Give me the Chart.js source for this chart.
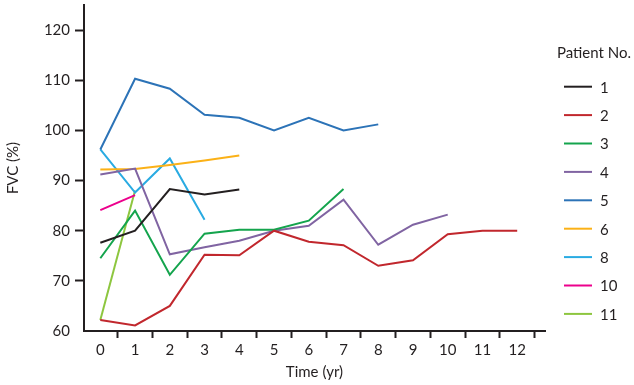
<!DOCTYPE html>
<html>
<head>
<meta charset="utf-8">
<script src="https://cdn.jsdelivr.net/npm/chart.js@4"></script>
<style>
  html, body { margin: 0; padding: 0; background: #fff; }
  canvas { display: block; }
</style>
</head>
<body>
<canvas id="fvcChart" width="634" height="385"></canvas>
<script>
// FVC (%) per patient, one value per year from year 0
const years = [0, 1, 2, 3, 4, 5, 6, 7, 8, 9, 10, 11, 12];
const patientNos = ["1", "2", "3", "4", "5", "6", "8", "10", "11"];
const p1 = [77.6, 80.0, 88.3, 87.2, 88.2];
const p2 = [62.2, 61.1, 65.0, 75.2, 75.1, 80.0, 77.8, 77.1, 73.0, 74.1, 79.3, 80.0, 80.0];
const p3 = [74.5, 84.0, 71.2, 79.4, 80.2, 80.2, 82.0, 88.3];
const p4 = [91.2, 92.4, 75.3, 76.7, 78.0, 80.0, 81.0, 86.2, 77.2, 81.2, 83.2];
const p5 = [96.2, 110.3, 108.3, 103.1, 102.5, 100.0, 102.5, 100.0, 101.2];
const p6 = [92.2, 92.3, 93.1, 94.0, 95.0];
const p8 = [96.2, 87.6, 94.4, 82.2];
const p10 = [84.1, 87.1];
const p11 = [62.2, 88.0];
const yTicks = [60, 70, 80, 90, 100, 110, 120];

const series = [p1, p2, p3, p4, p5, p6, p8, p10, p11];
const colors = ["#231f20", "#c1272d", "#14a44d", "#8064a2", "#2c73b7", "#fbb117", "#29abe2", "#ec008c", "#8dc63f"];

const ink = "#231f20";
const font = { family: "Lato", size: 15 };

const datasets = series.map((vals, i) => ({
  label: patientNos[i],
  data: vals.map((v, j) => ({ x: years[j], y: v })),
  borderColor: colors[i],
  backgroundColor: colors[i],
  borderWidth: 2,
  pointRadius: 0,
  fill: false,
}));

// legend drawn at the right, same look as the figure
const sideLegend = {
  id: "sideLegend",
  afterDraw(chart) {
    const ctx = chart.ctx;
    ctx.save();
    ctx.font = "15px Lato";
    ctx.fillStyle = ink;
    ctx.textBaseline = "middle";
    ctx.textAlign = "left";
    ctx.fillText("Patient No.", 557, 53);
    chart.data.datasets.forEach((ds, i) => {
      const y = 86.7 + i * 28.4;
      ctx.strokeStyle = ds.borderColor;
      ctx.lineWidth = 2;
      ctx.beginPath();
      ctx.moveTo(564, y);
      ctx.lineTo(592, y);
      ctx.stroke();
      ctx.fillStyle = ink;
      ctx.fillText(ds.label, 600, y + 1);
    });
    ctx.restore();
  },
};

new Chart(document.getElementById("fvcChart"), {
  type: "line",
  data: { datasets: datasets },
  options: {
    responsive: false,
    animation: false,
    layout: { padding: { top: 5, right: 89, left: 0, bottom: 0 } },
    plugins: { legend: { display: false }, tooltip: { enabled: false } },
    scales: {
      x: {
        type: "linear",
        min: -0.47,
        max: 12.8,
        afterFit: (s) => { s.height = 54; s.paddingLeft = 0; s.paddingRight = 0; },
        border: { color: ink, width: 2 },
        grid: {
          drawOnChartArea: false,
          tickLength: 7,
          tickWidth: 2,
          tickColor: (c) => (c.tick && Number.isInteger(c.tick.value) ? "rgba(0,0,0,0)" : ink),
        },
        ticks: {
          stepSize: 0.5,
          autoSkip: false,
          includeBounds: false,
          maxRotation: 0,
          padding: 3,
          color: ink,
          font: font,
          callback: (v) => (Number.isInteger(v) && years.includes(v) ? String(v) : ""),
        },
        title: { display: true, text: "Time (yr)", color: ink, font: font, padding: { top: 0, bottom: 4 } },
      },
      y: {
        min: 60,
        max: 125,
        afterFit: (s) => { s.width = 84; s.paddingTop = 0; s.paddingBottom = 0; },
        afterBuildTicks: (s) => { s.ticks = yTicks.map((v) => ({ value: v })); },
        border: { color: ink, width: 2 },
        grid: {
          drawOnChartArea: false,
          tickLength: 9,
          tickWidth: 2,
          tickColor: (c) => (c.tick && c.tick.value === 60 ? "rgba(0,0,0,0)" : ink),
        },
        ticks: { padding: 5, color: ink, font: font },
        title: { display: true, text: "FVC (%)", color: ink, font: font, padding: { top: 4, bottom: 0 } },
      },
    },
  },
  plugins: [sideLegend],
});
</script>
</body>
</html>
